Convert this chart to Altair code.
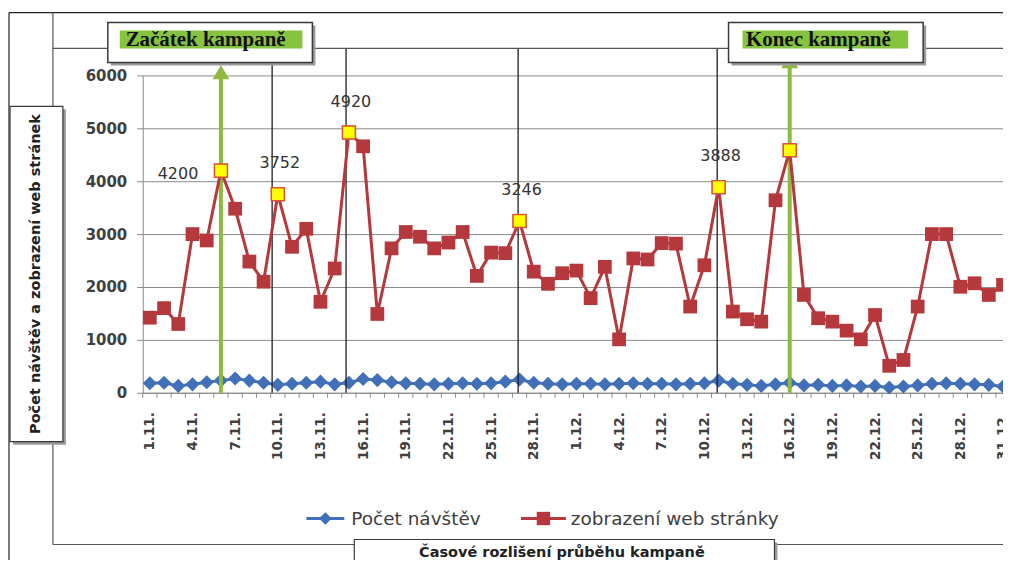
import altair as alt
import pandas as pd

# ---------------- data ----------------
dates = [f"{d}.11." for d in range(1, 31)] + [f"{d}.12." for d in range(1, 32)]

views = [1420, 1600, 1300, 3000, 2880, 4200, 3480, 2480, 2100, 3752,
         2760, 3100, 1720, 2350, 4920, 4660, 1490, 2730, 3040, 2950,
         2730, 2840, 3040, 2210, 2650, 2640, 3246, 2290, 2060, 2260,
         2310, 1790, 2380, 1010, 2540, 2520, 2830, 2820, 1630, 2410,
         3888, 1535, 1390, 1345, 3640, 4585, 1850, 1410, 1345, 1175,
         1010, 1470, 510, 620, 1630, 3000, 3000, 2005, 2070, 1850,
         2040]

visits = [180, 190, 130, 160, 200, 230, 270, 230, 190, 150,
          170, 190, 210, 160, 190, 260, 240, 200, 180, 170,
          160, 170, 180, 170, 180, 210, 250, 190, 170, 160,
          170, 170, 160, 170, 180, 170, 170, 160, 170, 180,
          230, 170, 150, 130, 160, 190, 140, 150, 130, 140,
          120, 130, 100, 120, 140, 170, 180, 170, 160, 150,
          120]

highlight_idx = [5, 9, 14, 26, 40, 45]
label_above_idx = [9, 14, 26, 40]
label_left_idx = [5]
arrow_idx = [5, 45]
arrow_tip = [6190, 6400]
marker_lines = [8.6, 13.8, 25.9, 39.9]
marker_top = 6510
tick_label_idx = list(range(0, 61, 3))
y_ticks = [0, 1000, 2000, 3000, 4000, 5000, 6000]

series_names = ["Počet návštěv", "zobrazení web stránky"]
y_title = "Počet návštěv a zobrazení web stránek"
x_title = "Časové rozlišení průběhu kampaně"
start_label = "Začátek kampaně"
end_label = "Konec kampaně"

# ---------------- styles ----------------
BLUE = "#4170B8"
RED = "#B5383C"
GREEN = "#8EBB3F"
HILITE = "#86C440"
GRID = "#8A8A8A"
TXT = "#404040"
W, H = 862, 318

df = pd.DataFrame({"i": list(range(len(dates))), "date": dates,
                   "views": views, "visits": visits})
hl = df.iloc[highlight_idx]
lab_above = df.iloc[label_above_idx]
lab_left = df.iloc[label_left_idx]
arrows = pd.DataFrame({"i": arrow_idx, "tip": arrow_tip, "y0": [0, 0]})
arrows["shaft"] = arrows["tip"] - 190
mlines = pd.DataFrame({"i": marker_lines, "y0": 0, "y1": marker_top})
bounds = pd.DataFrame({"i": [k - 0.5 for k in range(len(dates))]})
one = pd.DataFrame({"a": [0]})

label_js = "[" + ",".join(f"'{d}'" for d in dates) + "][datum.value]"

xscale = alt.Scale(domain=[-0.5, 60], nice=False, zero=False)
yscale = alt.Scale(domain=[0, 6000], nice=False)

x_axis = alt.Axis(
    values=tick_label_idx, labelExpr=label_js, labelAngle=270,
    labelFont="DejaVu Sans", labelFontWeight="bold", labelFontSize=13.5,
    labelColor=TXT, labelPadding=19, ticks=False, grid=False,
    domainColor=GRID, domainWidth=1, title=None)
y_axis = alt.Axis(
    values=y_ticks, format="d", labelFont="DejaVu Sans", labelFontWeight="bold",
    labelFontSize=15, labelColor=TXT, labelPadding=10, tickSize=6,
    tickColor=GRID, domainColor=GRID, gridColor=GRID, grid=True, title=None)


def X(f):
    return alt.X(f, scale=xscale, axis=x_axis)


def Y(f):
    return alt.Y(f, scale=yscale, axis=y_axis)


layers = []

# tick marks between categories
layers.append(alt.Chart(bounds).mark_rule(color=GRID, strokeWidth=1).encode(
    x=X("i:Q"), y=alt.value(H), y2=alt.value(H + 5)))

# blue series
layers.append(alt.Chart(df).mark_line(color=BLUE, strokeWidth=3).encode(
    x=X("i:Q"), y=Y("visits:Q")))
layers.append(alt.Chart(df).mark_point(shape="diamond", filled=True, color=BLUE,
                                       size=200, opacity=1).encode(
    x=X("i:Q"), y=Y("visits:Q")))

# black marker lines
layers.append(alt.Chart(mlines).mark_rule(color="#1E1E1E", strokeWidth=1.3).encode(
    x=X("i:Q"), y=Y("y0:Q"), y2="y1:Q"))

# green arrows
layers.append(alt.Chart(arrows).mark_rule(color=GREEN, strokeWidth=4).encode(
    x=X("i:Q"), y=Y("y0:Q"), y2="shaft:Q"))
layers.append(alt.Chart(arrows).mark_point(
    shape="M0,0L0.85,1.4L-0.85,1.4Z", filled=True, color=GREEN, size=400,
    opacity=1).encode(x=X("i:Q"), y=Y("tip:Q")))

# red series
layers.append(alt.Chart(df).mark_line(color=RED, strokeWidth=3).encode(
    x=X("i:Q"), y=Y("views:Q")))
layers.append(alt.Chart(df).mark_point(shape="square", filled=True, color=RED,
                                       size=190, opacity=1).encode(
    x=X("i:Q"), y=Y("views:Q")))
layers.append(alt.Chart(hl).mark_point(shape="square", filled=True, fill="#FFFF00",
                                       stroke="#E0523A", strokeWidth=1.5,
                                       size=170, opacity=1).encode(
    x=X("i:Q"), y=Y("views:Q")))

# data labels
layers.append(alt.Chart(lab_above).mark_text(
    font="DejaVu Sans", fontSize=16, color="#333333", dx=2, dy=-31).encode(
    x=X("i:Q"), y=Y("views:Q"), text="views:Q"))
layers.append(alt.Chart(lab_left).mark_text(
    font="DejaVu Sans", fontSize=16, color="#333333", dx=-43, dy=3).encode(
    x=X("i:Q"), y=Y("views:Q"), text="views:Q"))


# ---------------- decorations ----------------
def rect(x1, x2, y1, y2, **kw):
    return alt.Chart(one).mark_rect(**kw).encode(
        x=alt.value(x1), x2=alt.value(x2), y=alt.value(y1), y2=alt.value(y2))


def hline(x1, x2, y, **kw):
    return alt.Chart(one).mark_rule(**kw).encode(
        x=alt.value(x1), x2=alt.value(x2), y=alt.value(y))


def vline(x, y1, y2, **kw):
    return alt.Chart(one).mark_rule(**kw).encode(
        x=alt.value(x), y=alt.value(y1), y2=alt.value(y2))


def text(x, y, t, **kw):
    return alt.Chart(one).mark_text(text=t, **kw).encode(
        x=alt.value(x), y=alt.value(y))


FRAME = "#3A3A3A"
SHADOW = "#9A9A9A"

# frames
layers.append(vline(-134, -63, 490, color="#222222", strokeWidth=1.2))
layers.append(hline(-134, W + 10, -63, color="#222222", strokeWidth=1.2))
layers.append(vline(-90, -63, 470, color="#555555", strokeWidth=1.2))
layers.append(hline(-90, W + 10, -27, color="#555555", strokeWidth=1.2))
layers.append(hline(-90, W + 10, 470, color="#555555", strokeWidth=1.2))

# y title box
layers.append(rect(-130, -77, 34, 370, color=SHADOW))
layers.append(rect(-133, -80, 31, 367, fill="white", stroke=FRAME, strokeWidth=1.2))
layers.append(text(-107, 199, y_title, angle=270, font="DejaVu Sans",
                   fontWeight="bold", fontSize=14.5, color="#222222",
                   align="center", baseline="middle"))

# x title box
layers.append(rect(215, 636, 468, 520, color=SHADOW))
layers.append(rect(212, 633, 465, 520, fill="white", stroke=FRAME, strokeWidth=1.2))
layers.append(text(420, 479, x_title, font="DejaVu Sans", fontWeight="bold",
                   fontSize=14.5, color="#222222", align="center", baseline="middle"))

# start / end boxes
for (bx1, bx2, gx1, gx2, tx, lab) in [(-35, 170, -23, 160, 63, start_label),
                                      (587, 782, 601, 767, 677, end_label)]:
    layers.append(rect(bx1 + 3, bx2 + 3, -50, -10, color=SHADOW))
    layers.append(rect(bx1, bx2, -53, -13, fill="white", stroke=FRAME, strokeWidth=1.5))
    layers.append(rect(gx1, gx2, -45, -27, color=HILITE))
    layers.append(text(tx, -35, lab, font="Liberation Serif", fontWeight="bold",
                       fontSize=21, color="#111111", align="center",
                       baseline="middle"))

# legend
layers.append(hline(164, 202, 444, color=BLUE, strokeWidth=3))
layers.append(alt.Chart(one).mark_point(shape="diamond", filled=True, color=BLUE,
                                        size=160, opacity=1).encode(
    x=alt.value(183), y=alt.value(444)))
layers.append(text(209, 444, series_names[0], font="DejaVu Sans", fontSize=18.5,
                   color=TXT, align="left", baseline="middle"))
layers.append(hline(379, 424, 444, color=RED, strokeWidth=3))
layers.append(alt.Chart(one).mark_point(shape="square", filled=True, color=RED,
                                        size=180, opacity=1).encode(
    x=alt.value(401.5), y=alt.value(444)))
layers.append(text(429, 444, series_names[1], font="DejaVu Sans", fontSize=18.5,
                   color=TXT, align="left", baseline="middle"))

chart = alt.layer(*layers).properties(
    width=W, height=H,
    padding={"left": 135, "top": 67, "right": 0, "bottom": 167},
    autosize=alt.AutoSizeParams(type="none"),
    background="white",
).configure_view(stroke=None)

chart.save("out.html", embed_options={"renderer": "svg", "actions": False})
